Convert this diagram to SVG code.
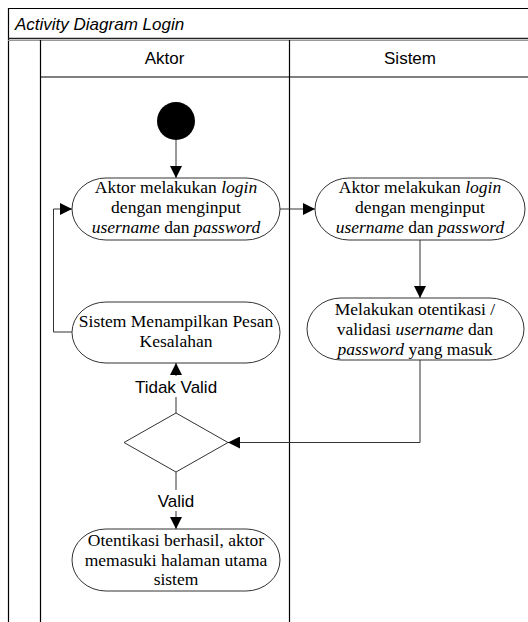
<svg xmlns="http://www.w3.org/2000/svg" width="528" height="622" viewBox="0 0 528 622">
<defs>
<marker id="arr" markerUnits="userSpaceOnUse" markerWidth="12" markerHeight="12" refX="12" refY="6" orient="auto">
<path d="M0,0 L12,6 L0,12 z" fill="#000"/>
</marker>
<style>
.frame{fill:none;stroke:#000;stroke-width:1.2}
.node{fill:#fff;stroke:#333;stroke-width:1}
.t{font-family:"Liberation Serif","Times New Roman",serif;font-size:17.5px;fill:#000;text-anchor:middle}
.s{font-family:"Liberation Sans",Arial,sans-serif;font-size:17px;fill:#000}
.c{fill:none;stroke:#333;stroke-width:1}
.it{font-style:italic}
</style>
</defs>
<rect x="0" y="0" width="528" height="622" fill="#fff"/>
<g id="frame">
<line class="frame" x1="8.5" y1="8.5" x2="528" y2="8.5"/>
<line class="frame" x1="8.5" y1="8" x2="8.5" y2="622"/>
<line x1="8" y1="38.5" x2="528" y2="38.5" stroke="#222" stroke-width="1.5"/>
<line x1="8" y1="40.5" x2="528" y2="40.5" stroke="#999" stroke-width="1"/>
<line class="frame" x1="40.5" y1="40" x2="40.5" y2="622"/>
<line class="frame" x1="289.5" y1="40" x2="289.5" y2="622"/>
<line class="frame" x1="40" y1="77" x2="528" y2="77"/>
<text class="s it" x="15" y="30">Activity Diagram Login</text>
<text class="s" x="164.5" y="64" text-anchor="middle">Aktor</text>
<text class="s" x="410" y="64" text-anchor="middle">Sistem</text>
</g>
<g id="connectors">
<path class="c" d="M176,140 V178" marker-end="url(#arr)"/>
<path class="c" d="M280,209 H315" marker-end="url(#arr)"/>
<path class="c" d="M420,240 V298" marker-end="url(#arr)"/>
<path class="c" d="M420,360 V442.5 H228" marker-end="url(#arr)"/>
<path class="c" d="M176,413 V363" marker-end="url(#arr)"/>
<path class="c" d="M72,332 H53.5 V209 H72" marker-end="url(#arr)"/>
<path class="c" d="M176,472 V529" marker-end="url(#arr)"/>
<rect x="131" y="376" width="90" height="21" fill="#fff"/>
<text class="s" x="176" y="393" text-anchor="middle">Tidak Valid</text>
<rect x="155" y="490" width="42" height="21" fill="#fff"/>
<text class="s" x="176" y="507" text-anchor="middle">Valid</text>
</g>
<g id="start">
<circle cx="176" cy="121" r="19" fill="#000"/>
</g>
<g id="a1">
<rect class="node" x="72" y="178" width="208" height="62" rx="34" ry="31"/>
<text class="t" x="176" y="193">Aktor melakukan <tspan class="it">login</tspan></text>
<text class="t" x="176" y="213">dengan menginput</text>
<text class="t" x="176" y="233"><tspan class="it">username</tspan> dan <tspan class="it">password</tspan></text>
</g>
<g id="s1">
<rect class="node" x="315" y="178" width="210" height="62" rx="34" ry="31"/>
<text class="t" x="420" y="193">Aktor melakukan <tspan class="it">login</tspan></text>
<text class="t" x="420" y="213">dengan menginput</text>
<text class="t" x="420" y="233"><tspan class="it">username</tspan> dan <tspan class="it">password</tspan></text>
</g>
<g id="s2">
<rect class="node" x="307" y="298" width="217" height="62" rx="34" ry="31"/>
<text class="t" x="415" y="315">Melakukan otentikasi /</text>
<text class="t" x="415" y="335">validasi <tspan class="it">username</tspan> dan</text>
<text class="t" x="415" y="355"><tspan class="it">password</tspan> yang masuk</text>
</g>
<g id="a2">
<rect class="node" x="72" y="302" width="208" height="61" rx="34" ry="30.5"/>
<text class="t" x="176" y="327">Sistem Menampilkan Pesan</text>
<text class="t" x="176" y="347">Kesalahan</text>
</g>
<g id="decision">
<path class="node" d="M176,413 L228,442.5 L176,472 L124,442.5 z"/>
</g>
<g id="a3">
<rect class="node" x="72" y="529" width="208" height="62" rx="34" ry="31"/>
<text class="t" x="176" y="546">Otentikasi berhasil, aktor</text>
<text class="t" x="176" y="566">memasuki halaman utama</text>
<text class="t" x="176" y="585">sistem</text>
</g>
</svg>
